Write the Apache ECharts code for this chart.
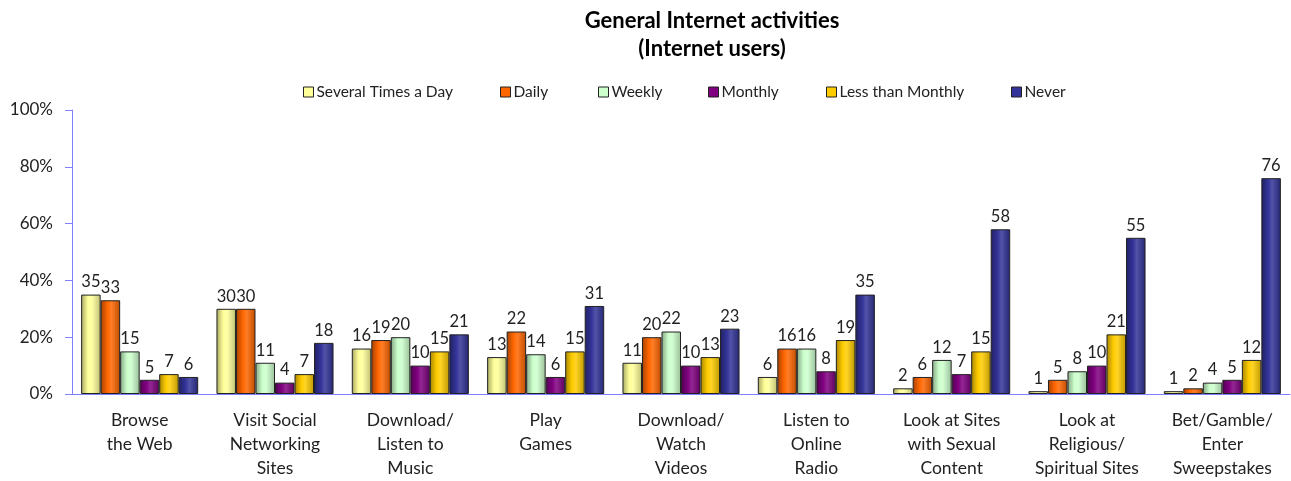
<!DOCTYPE html>
<html><head><meta charset="utf-8">
<script src="https://cdn.jsdelivr.net/npm/echarts@6/dist/echarts.min.js"></script>
<style>html,body{margin:0;padding:0;background:#fff}#c{width:1291px;height:481px}</style>
</head><body><div id="c"></div>
<script>
const categories = ["Browse\nthe Web","Visit Social\nNetworking\nSites","Download/\nListen to\nMusic","Play\nGames","Download/\nWatch\nVideos","Listen to\nOnline\nRadio","Look at Sites\nwith Sexual\nContent","Look at\nReligious/\nSpiritual Sites","Bet/Gamble/\nEnter\nSweepstakes"];
const seriesNames = ["Several Times a Day","Daily","Weekly","Monthly","Less than Monthly","Never"];
const severalTimesADay = [35,30,16,13,11,6,2,1,1];
const daily = [33,30,19,22,20,16,6,5,2];
const weekly = [15,11,20,14,22,16,12,8,4];
const monthly = [5,4,10,6,10,8,7,10,5];
const lessThanMonthly = [7,7,15,15,13,19,15,21,12];
const never = [6,18,21,31,23,35,58,55,76];
const yTicks = ["0%","20%","40%","60%","80%","100%"];

const values = [severalTimesADay, daily, weekly, monthly, lessThanMonthly, never];
const colors = ["#FFFF99","#FF6600","#CCFFCC","#800080","#FFCC00","#333399"];
const legendX = [298,495,593,703,821,1006];
const FONT = "Lato";

function shade(hex, f){
  const n = parseInt(hex.slice(1),16);
  let r=(n>>16)&255,g=(n>>8)&255,b=n&255;
  if(f<0){r=Math.round(r*(1+f));g=Math.round(g*(1+f));b=Math.round(b*(1+f));}
  else{r=Math.round(r+(255-r)*f);g=Math.round(g+(255-g)*f);b=Math.round(b+(255-b)*f);}
  return `rgb(${r},${g},${b})`;
}
function grad(c){
  return new echarts.graphic.LinearGradient(0,0,1,0,[
    {offset:0,color:shade(c,-0.35)},
    {offset:0.35,color:c},
    {offset:0.55,color:shade(c,0.15)},
    {offset:1,color:shade(c,-0.25)}
  ]);
}

const chart = echarts.init(document.getElementById('c'));
chart.setOption({
  animation:false,
  title:{text:"General Internet activities\n(Internet users)",left:707,textAlign:'center',top:2,
    textStyle:{fontFamily:FONT,fontWeight:'bold',fontSize:22,color:'#000',lineHeight:28}},
  legend: seriesNames.map((n,i)=>({data:[{name:n,itemStyle:{color:colors[i]}}],left:legendX[i],top:79,itemWidth:10,itemHeight:10,
    icon:'rect',itemStyle:{borderColor:'#222',borderWidth:1},
    textStyle:{fontFamily:FONT,fontSize:15.5,color:'#222',padding:[0,0,0,-2]}})),
  grid:{left:72,right:1,top:110,bottom:87,containLabel:false},
  xAxis:{type:'category',data:categories,
    axisLine:{lineStyle:{color:'#8080FF',width:1}},axisTick:{show:false},
    axisLabel:{fontFamily:FONT,fontSize:17.5,color:'#222',lineHeight:24,margin:14,interval:0}},
  yAxis:{type:'value',min:0,max:100,interval:20,
    axisLine:{show:true,lineStyle:{color:'#8080FF',width:1}},
    axisTick:{show:true,length:7,lineStyle:{color:'#8080FF'}},
    splitLine:{show:false},
    axisLabel:{fontFamily:FONT,fontSize:17,color:'#222',margin:19,formatter:(v)=>yTicks[v/20]}},
  series: seriesNames.map((n,i)=>({name:n,type:'bar',data:values[i],
    barGap:'0%',barCategoryGap:'13.5%',
    itemStyle:{color:grad(colors[i]),borderColor:'#222',borderWidth:1},
    label:{show:true,position:'top',distance:4,fontFamily:FONT,fontSize:16.5,color:'#222'}}))
});
</script></body></html>
